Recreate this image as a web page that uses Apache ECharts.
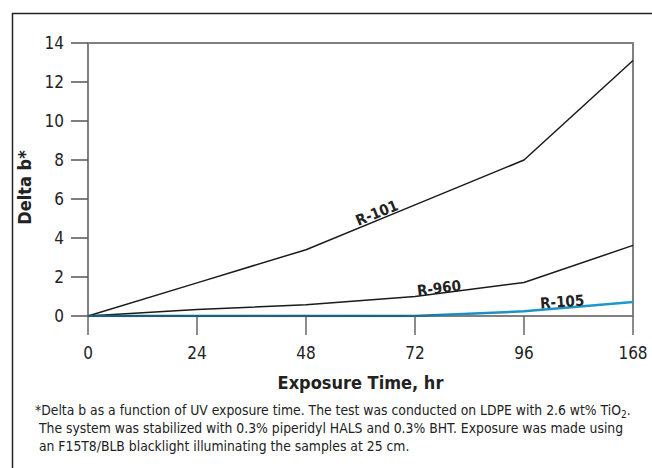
<!DOCTYPE html>
<html>
<head>
<meta charset="utf-8">
<script src="https://cdn.jsdelivr.net/npm/echarts@6/dist/echarts.min.js"></script>
<style>
html,body{margin:0;padding:0;background:#fff;}
#c{width:652px;height:468px;}
#c text{font-stretch:condensed;}
</style>
</head>
<body>
<div id="c"></div>
<script>
const xLabels = ['0', '24', '48', '72', '96', '168'];
const r101 = [0, 1.7, 3.4, 5.7, 8.0, 13.1];
const r960 = [0, 0.33, 0.58, 1.0, 1.72, 3.62];
const r105 = [0, 0, 0, 0, 0.24, 0.72];
const yTicks = [0, 2, 4, 6, 8, 10, 12, 14];
const footnote = [
  '*Delta b as a function of UV exposure time. The test was conducted on LDPE with 2.6 wt% TiO{sub|2}.',
  ' The system was stabilized with 0.3% piperidyl HALS and 0.3% BHT. Exposure was made using',
  ' an F15T8/BLB blacklight illuminating the samples at 25 cm.'
];

const FONT = "'DejaVu Sans Condensed', 'DejaVu Sans', sans-serif";
const axisGray = '#808080';
const toPts = arr => arr.map((v, i) => [i, v]);

const chart = echarts.init(document.getElementById('c'), null, {renderer: 'svg'});
chart.setOption({
  animation: false,
  backgroundColor: '#fff',
  textStyle: {fontFamily: FONT},
  grid: {left: 88, right: 19, top: 43, bottom: 152, containLabel: false},
  graphic: [{
    type: 'rect', left: 10, top: 11, shape: {width: 700, height: 520},
    style: {fill: 'none', stroke: '#222', lineWidth: 1.5}, silent: true
  }],
  title: [{
    text: footnote.join('\n'),
    left: 30, top: 396,
    textStyle: {
      fontFamily: FONT, fontSize: 13.8, fontWeight: 'normal', color: '#222', lineHeight: 18,
      rich: {sub: {fontFamily: FONT, fontSize: 10, verticalAlign: 'bottom', padding: [6, 0, 0, 0], color: '#222'}}
    }
  }],
  xAxis: [{
    type: 'value', min: 0, max: 5, interval: 1,
    name: 'Exposure Time, hr', nameLocation: 'middle', nameGap: 57,
    nameTextStyle: {fontFamily: FONT, fontSize: 18, fontWeight: 'bold', color: '#222'},
    axisLine: {show: true, lineStyle: {color: axisGray, width: 2}},
    axisTick: {show: true, length: 19, lineStyle: {color: '#666', width: 1.5}},
    axisLabel: {margin: 28, fontSize: 17, color: '#222', fontFamily: FONT,
      formatter: v => xLabels[v]},
    splitLine: {show: false}
  }, {
    type: 'value', min: 0, max: 5, position: 'top',
    axisLine: {show: true, onZero: false, lineStyle: {color: axisGray, width: 2}},
    axisTick: {show: false}, axisLabel: {show: false}, splitLine: {show: false}
  }],
  yAxis: [{
    type: 'value', min: 0, max: 14, interval: 2,
    name: 'Delta b*', nameLocation: 'middle', nameGap: 46, nameRotate: 90,
    nameTextStyle: {fontFamily: FONT, fontSize: 18, fontWeight: 'bold', color: '#222', padding: [0, 16, 0, 0]},
    axisLine: {show: true, lineStyle: {color: '#555', width: 1.5}},
    axisTick: {show: true, length: 17, lineStyle: {color: '#555', width: 1.5}},
    axisLabel: {margin: 24, fontSize: 17, color: '#222', fontFamily: FONT,
      formatter: v => yTicks.indexOf(v) >= 0 ? String(v) : ''},
    splitLine: {show: false}
  }, {
    type: 'value', min: 0, max: 14, position: 'right',
    axisLine: {show: true, onZero: false, lineStyle: {color: axisGray, width: 2}},
    axisTick: {show: false}, axisLabel: {show: false}, splitLine: {show: false}
  }],
  series: [{
    name: 'R-101', type: 'line', data: toPts(r101), showSymbol: false, symbol: 'none',
    lineStyle: {color: '#1a1a1a', width: 1.5}, z: 3,
    markPoint: {symbol: 'circle', symbolSize: 0, silent: true,
      label: {show: true, formatter: 'R-101', rotate: 22, fontFamily: FONT, fontSize: 15, fontWeight: 'bold', color: '#222'},
      data: [{coord: [2.65, 5.28]}]}
  }, {
    name: 'R-960', type: 'line', data: toPts(r960), showSymbol: false, symbol: 'none',
    lineStyle: {color: '#1a1a1a', width: 1.5}, z: 3,
    markPoint: {symbol: 'circle', symbolSize: 0, silent: true,
      label: {show: true, formatter: 'R-960', rotate: 7, fontFamily: FONT, fontSize: 15, fontWeight: 'bold', color: '#222'},
      data: [{coord: [3.22, 1.42]}]}
  }, {
    name: 'R-105', type: 'line', data: toPts(r105), showSymbol: false, symbol: 'none',
    lineStyle: {width: 2.5, color: new echarts.graphic.LinearGradient(0, 0, 1, 0, [
      {offset: 0, color: '#1c5d75'}, {offset: 0.58, color: '#1c6580'},
      {offset: 0.68, color: '#1d90bd'}, {offset: 1, color: '#1e9ac8'}])}, z: 4,
    markPoint: {symbol: 'circle', symbolSize: 0, silent: true,
      label: {show: true, formatter: 'R-105', rotate: 4, fontFamily: FONT, fontSize: 15, fontWeight: 'bold', color: '#222'},
      data: [{coord: [4.35, 0.72]}]}
  }]
});
</script>
</body>
</html>
